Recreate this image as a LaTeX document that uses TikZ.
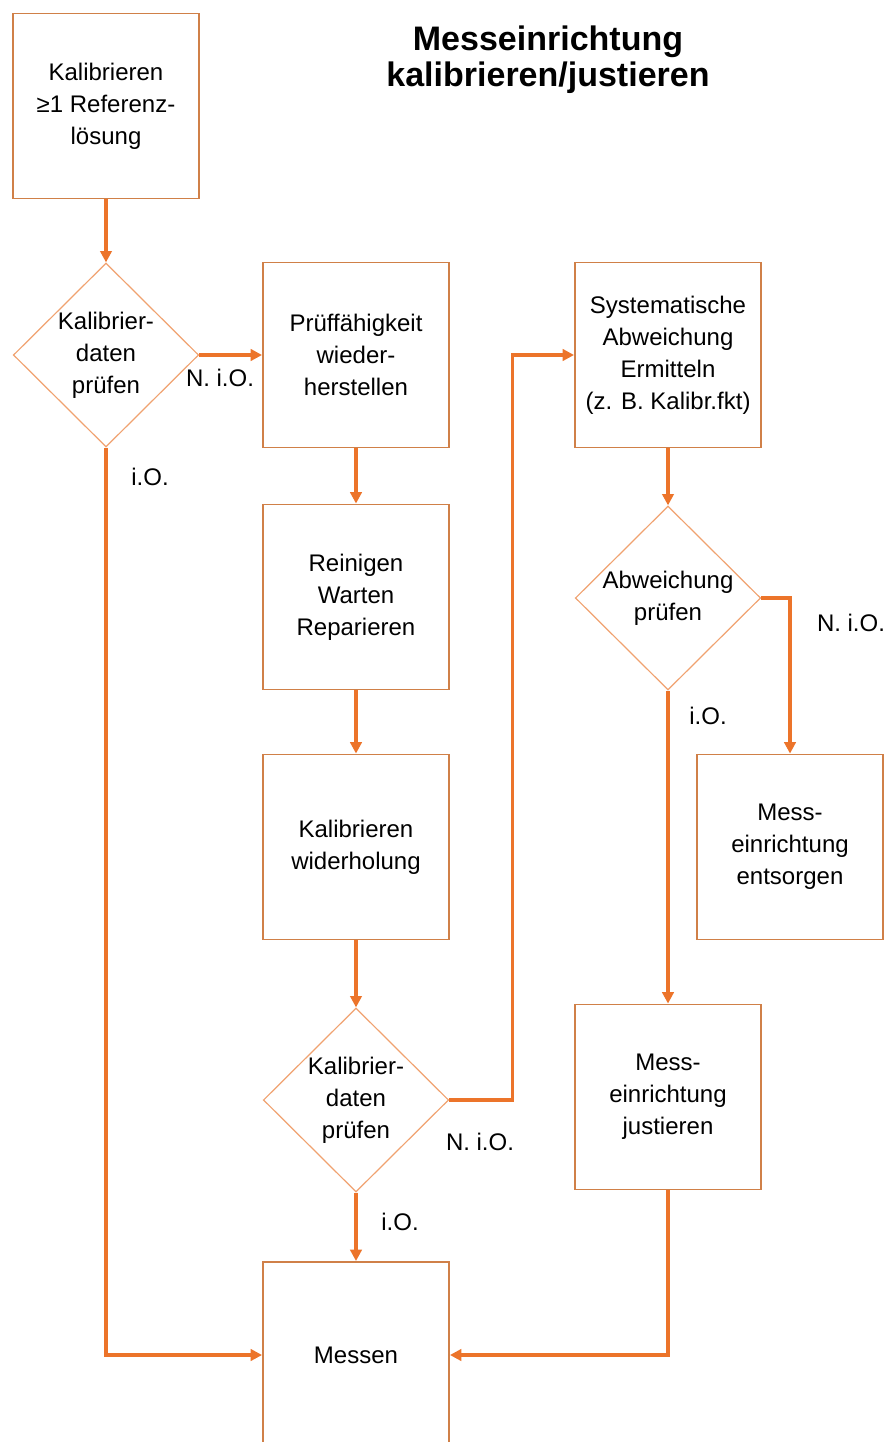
\documentclass[tikz,border=0pt]{standalone}
\usepackage{fontspec}
\setmainfont{Liberation Sans}
\usetikzlibrary{shapes.geometric,arrows.meta}

\definecolor{flowc}{RGB}{236,116,42}
\definecolor{boxc}{RGB}{208,128,72}
\definecolor{diac}{RGB}{240,162,112}
\newcommand{\bodyfont}{\fontsize{18}{24}\selectfont}

\tikzset{
  stepbox/.style={draw=boxc, line width=1.4pt, fill=white, minimum width=139.5pt,
    minimum height=138.75pt, align=center, font=\bodyfont},
  checkbox/.style={diamond, draw=diac, line width=0.9pt, fill=white, minimum width=139pt,
    minimum height=138pt, inner sep=0pt,
    label={[align=center, font=\bodyfont]center:#1}},
  flow/.style={draw=flowc, line width=2.4pt, -{Triangle[length=8.5pt,width=8.5pt]}},
  lab/.style={font=\bodyfont, inner sep=0pt}
}

\begin{document}
\begin{tikzpicture}[x=0.75pt, y=-0.75pt]
    \useasboundingbox (0,0) rectangle (888,1442);
    \clip (0,0) rectangle (888,1442);

    % Title
    \node[align=center, font=\fontsize{25.5}{27}\selectfont\bfseries] (title) at (548,60)
        {Messeinrichtung\\kalibrieren/justieren};

    % left column
    \node[stepbox] (kal) at (106,106) {Kalibrieren\\≥1 Referenz-\\lösung};
    \node[checkbox={Kalibrier-\\daten\\prüfen}] (chk1) at (106,355) {};

    % middle column
    \node[stepbox] (wieder) at (356,355) {Prüffähigkeit\\wieder-\\herstellen};
    \node[stepbox] (reinig) at (356,597) {Reinigen\\Warten\\Reparieren};
    \node[stepbox] (wdh) at (356,847) {Kalibrieren\\widerholung};
    \node[checkbox={Kalibrier-\\daten\\prüfen}] (chk2) at (356,1100) {};
    \node[stepbox, minimum height=139.5pt] (messen) at (356,1355) {Messen};

    % right column
    \node[stepbox] (syst) at (668,355) {Systematische\\Abweichung\\Ermitteln\\(z. B. Kalibr.fkt)};
    \node[checkbox={Abweichung\\prüfen}] (chk3) at (668,598) {};
    \node[stepbox] (entsorg) at (790,847) {Mess-\\einrichtung\\entsorgen};
    \node[stepbox] (justier) at (668,1097) {Mess-\\einrichtung\\justieren};

    % Connections
    \draw[flow] (kal) -- (chk1);
    \draw[flow] (chk1.east) -- (wieder.west);
    \draw[flow] (chk1.south) |- (messen.west);
    \draw[flow] (wieder) -- (reinig);
    \draw[flow] (reinig) -- (wdh);
    \draw[flow] (wdh) -- (chk2);
    \draw[flow] (chk2) -- (messen);
    \draw[flow] (chk2.east) -- ++(63,0) |- (syst.west);
    \draw[flow] (syst) -- (chk3);
    \draw[flow] (chk3.east) -| (entsorg.north);
    \draw[flow] (chk3.south) -- (justier.north);
    \draw[flow] (justier.south) |- (messen.east);

    % Labels
    \node[lab] (n1) at (220,378) {N. i.O.};
    \node[lab] (i1) at (150,477) {i.O.};
    \node[lab] (n2) at (480,1142) {N. i.O.};
    \node[lab] (i2) at (400,1222) {i.O.};
    \node[lab] (n3) at (851,623) {N. i.O.};
    \node[lab] (i3) at (708,716) {i.O.};
\end{tikzpicture}
\end{document}
